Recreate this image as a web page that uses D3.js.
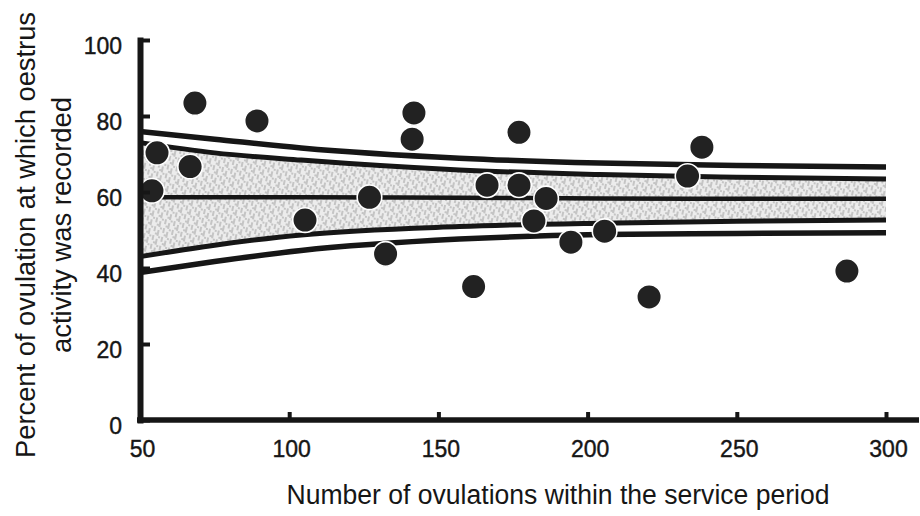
<!DOCTYPE html>
<html>
<head>
<meta charset="utf-8">
<script src="https://cdn.jsdelivr.net/npm/d3@7"></script>
<style>
  html, body { margin: 0; padding: 0; background: #fff; }
  svg { display: block; font-family: "Liberation Sans", Arial, Helvetica, sans-serif; }
</style>
</head>
<body>
<div id="chart"></div>
<script>
// tick values
const xTicks = [50, 100, 150, 200, 250, 300];
const yTicks = [0, 20, 40, 60, 80, 100];

const dotX = [54.0, 55.7, 66.8, 68.4, 89.2, 105.3, 126.9, 132.3, 141.2, 141.8, 161.8,
  166.3, 177.0, 177.0, 182.0, 186.1, 194.4, 205.7, 220.6, 233.5, 238.3, 286.9];
const dotY = [60.3, 70.3, 66.7, 83.4, 78.7, 52.6, 58.6, 43.7, 73.9, 80.8, 35.1,
  61.8, 75.7, 61.8, 52.4, 58.3, 46.8, 49.7, 32.4, 64.2, 71.8, 39.2];

// fitted mean and limit curves
const bandX = [50, 75, 104, 157, 204, 250, 300];
const outerUpper = [75.9, 73.9, 71.6, 68.9, 67.6, 67.0, 66.6];
const innerUpper = [73.0, 70.3, 68.4, 65.8, 64.6, 63.9, 63.4];
const fitLine = [58.6, 58.6, 58.6, 58.5, 58.3, 58.2, 58.2];
const innerLower = [43.0, 46.0, 48.7, 50.9, 51.8, 52.3, 52.6];
const outerLower = [38.8, 41.7, 44.6, 47.6, 48.8, 49.1, 49.3];

const width = 920;
const height = 516;

const x = d3.scaleLinear().domain([50, 300]).range([140, 886]);
const y = d3.scaleLinear().domain([0, 100]).range([420, 40]);

const ink = "#161616";

const svg = d3.select("#chart")
  .append("svg")
  .attr("width", width)
  .attr("height", height);

// stippled texture for the inner band
const defs = svg.append("defs");
const pat = defs.append("pattern")
  .attr("id", "stipple")
  .attr("patternUnits", "userSpaceOnUse")
  .attr("width", 9)
  .attr("height", 9)
  .attr("patternTransform", "rotate(12)");
pat.append("rect").attr("width", 9).attr("height", 9).attr("fill", "#ececec");
pat.append("path")
  .attr("d", "M1,0 L1,5 M5,3 L5,9 M7,0 L7,2 M3,6 L3,8")
  .attr("stroke", "#949494")
  .attr("stroke-width", 0.9);

const band = bandX.map((d, i) => ({ x: d, lo: innerLower[i], hi: innerUpper[i] }));

svg.append("path")
  .datum(band)
  .attr("fill", "url(#stipple)")
  .attr("d", d3.area()
    .curve(d3.curveMonotoneX)
    .x((d) => x(d.x))
    .y0((d) => y(d.lo))
    .y1((d) => y(d.hi)));

const line = d3.line()
  .curve(d3.curveMonotoneX)
  .x((d) => x(d[0]))
  .y((d) => y(d[1]));

const curves = [
  { values: outerUpper, w: 5.5 },
  { values: innerUpper, w: 5 },
  { values: fitLine, w: 4.5 },
  { values: innerLower, w: 5 },
  { values: outerLower, w: 5.5 },
];

svg.append("g")
  .selectAll("path")
  .data(curves)
  .join("path")
  .attr("fill", "none")
  .attr("stroke", ink)
  .attr("stroke-width", (d) => d.w)
  .attr("d", (d) => line(bandX.map((v, i) => [v, d.values[i]])));

// points
svg.append("g")
  .selectAll("circle")
  .data(dotX.map((v, i) => [v, dotY[i]]))
  .join("circle")
  .attr("cx", (d) => x(d[0]))
  .attr("cy", (d) => y(d[1]))
  .attr("r", 12.3)
  .attr("fill", "#222")
  .attr("stroke", "#fff")
  .attr("stroke-width", 1.6);

// x axis
const xAxisG = svg.append("g")
  .attr("transform", `translate(0,${y(0)})`)
  .call(d3.axisBottom(x)
    .tickValues(xTicks)
    .tickSizeInner(-8)
    .tickSizeOuter(0)
    .tickPadding(21));
xAxisG.select(".domain").remove();
xAxisG.append("line")
  .attr("x1", x(50) - 3)
  .attr("x2", 919)
  .attr("stroke", ink)
  .attr("stroke-width", 5.5);
xAxisG.selectAll(".tick line")
  .attr("stroke", ink)
  .attr("stroke-width", 4)
  .filter((d) => d === 50)
  .remove();
xAxisG.selectAll(".tick text")
  .attr("fill", ink)
  .attr("stroke", ink)
  .attr("stroke-width", 0.4)
  .attr("font-size", 23)
  .attr("dx", 2);

// y axis
const yAxisG = svg.append("g")
  .attr("transform", `translate(${x(50)},0)`)
  .call(d3.axisLeft(y)
    .tickValues(yTicks)
    .tickSizeInner(-10)
    .tickSizeOuter(0)
    .tickPadding(18));
yAxisG.select(".domain")
  .attr("stroke", ink)
  .attr("stroke-width", 6)
  .attr("stroke-linecap", "square");
yAxisG.selectAll(".tick line")
  .attr("stroke", ink)
  .attr("stroke-width", 4);
yAxisG.selectAll(".tick text")
  .attr("fill", ink)
  .attr("stroke", ink)
  .attr("stroke-width", 0.4)
  .attr("font-size", 23)
  .attr("dy", "0.57em");

// axis titles
svg.append("text")
  .attr("x", 558)
  .attr("y", 504)
  .attr("text-anchor", "middle")
  .attr("font-size", 27)
  .attr("fill", ink)
  .attr("textLength", 543)
  .attr("lengthAdjust", "spacingAndGlyphs")
  .text("Number of ovulations within the service period");

const yTitle = svg.append("g").attr("fill", ink).attr("font-size", 27);
yTitle.append("text")
  .attr("transform", "translate(35,235) rotate(-90)")
  .attr("text-anchor", "middle")
  .attr("textLength", 446)
  .attr("lengthAdjust", "spacingAndGlyphs")
  .text("Percent of ovulation at which oestrus");
yTitle.append("text")
  .attr("transform", "translate(71,225) rotate(-90)")
  .attr("text-anchor", "middle")
  .attr("textLength", 256)
  .attr("lengthAdjust", "spacingAndGlyphs")
  .text("activity was recorded");
</script>
</body>
</html>
